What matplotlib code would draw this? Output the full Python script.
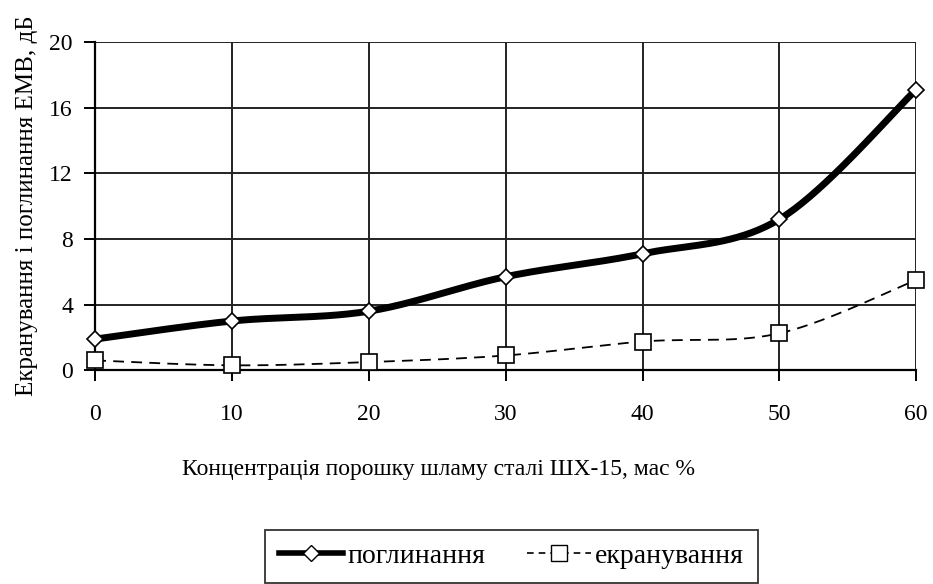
import numpy as np
import matplotlib.pyplot as plt
from matplotlib.lines import Line2D

# data
concentration = [0, 10, 20, 30, 40, 50, 60]
absorption = [1.9, 3.0, 3.6, 5.7, 7.1, 9.2, 17.1]
shielding = [0.6, 0.3, 0.5, 0.9, 1.75, 2.25, 5.5]

plt.rcParams['font.family'] = ['Liberation Serif', 'DejaVu Serif']


def smooth(xs, ys, n=40):
    # Catmull-Rom style bezier smoothing, like Excel's smoothed line
    xs = np.asarray(xs, float)
    ys = np.asarray(ys, float)
    px = np.concatenate([[xs[0]], xs, [xs[-1]]])
    py = np.concatenate([[ys[0]], ys, [ys[-1]]])
    outx, outy = [], []
    t = np.linspace(0, 1, n)
    for i in range(1, len(px) - 2):
        p0 = np.array([px[i], py[i]])
        p3 = np.array([px[i + 1], py[i + 1]])
        p1 = p0 + (np.array([px[i + 1], py[i + 1]]) - np.array([px[i - 1], py[i - 1]])) / 6
        p2 = p3 - (np.array([px[i + 2], py[i + 2]]) - np.array([px[i], py[i]])) / 6
        b = ((1 - t) ** 3)[:, None] * p0 + (3 * (1 - t) ** 2 * t)[:, None] * p1 \
            + (3 * (1 - t) * t ** 2)[:, None] * p2 + (t ** 3)[:, None] * p3
        outx.extend(b[:, 0])
        outy.extend(b[:, 1])
    return outx, outy


fig = plt.figure(figsize=(9.33, 5.84), dpi=100)
ax = fig.add_axes([0.102, 0.366, 0.880, 0.562])

sx, sy = smooth(concentration, absorption)
ax.plot(sx, sy, color='black', lw=5, solid_capstyle='butt', zorder=3)
ax.plot(concentration, absorption, ls='none', marker='D', ms=8, mfc='white',
        mec='black', mew=1.2, zorder=4, clip_on=False)

sx, sy = smooth(concentration, shielding)
ax.plot(sx, sy, color='black', lw=1.3, ls=(0, (6, 4)), zorder=3)
ax.plot(concentration, shielding, ls='none', marker='s', ms=12, mfc='white',
        mec='black', mew=1.2, zorder=4, clip_on=False)

ax.set_xlim(0, 60)
ax.set_ylim(0, 20)
ax.set_xticks(range(0, 61, 10))
ax.set_yticks(range(0, 21, 4))
ax.grid(True, color='#222222', lw=1.4)
ax.set_axisbelow(True)
for side in ['top', 'right']:
    ax.spines[side].set_visible(False)
for side in ['left', 'bottom']:
    ax.spines[side].set_linewidth(1.6)
ax.tick_params(direction='out', length=8, width=1.4, labelsize=17)
ax.tick_params(axis='x', pad=16)
ax.tick_params(axis='y', pad=8)

ax.set_xlabel('Концентрація порошку шламу сталі ШХ-15, мас %', fontsize=17)
ax.xaxis.set_label_coords(0.418, -0.27)
ax.set_ylabel('Екранування і поглинання ЕМВ, дБ', fontsize=18, labelpad=8)

handles = [
    Line2D([], [], color='black', lw=4, marker='D', ms=8, mfc='white', mec='black'),
    Line2D([], [], color='black', lw=1.2, ls=(0, (4, 3)), marker='s', ms=11,
           mfc='white', mec='black'),
]
leg = fig.legend(handles, ['поглинання', 'екранування'], ncol=2, loc='upper center',
                 bbox_to_anchor=(0.548, 0.093), fontsize=20, frameon=True,
                 fancybox=False, edgecolor='black', handlelength=2.3,
                 handletextpad=0.15, columnspacing=1.5, borderpad=0.5,
                 borderaxespad=0)
leg.get_frame().set_linewidth(1.3)

fig.savefig('out.png', dpi=100)
